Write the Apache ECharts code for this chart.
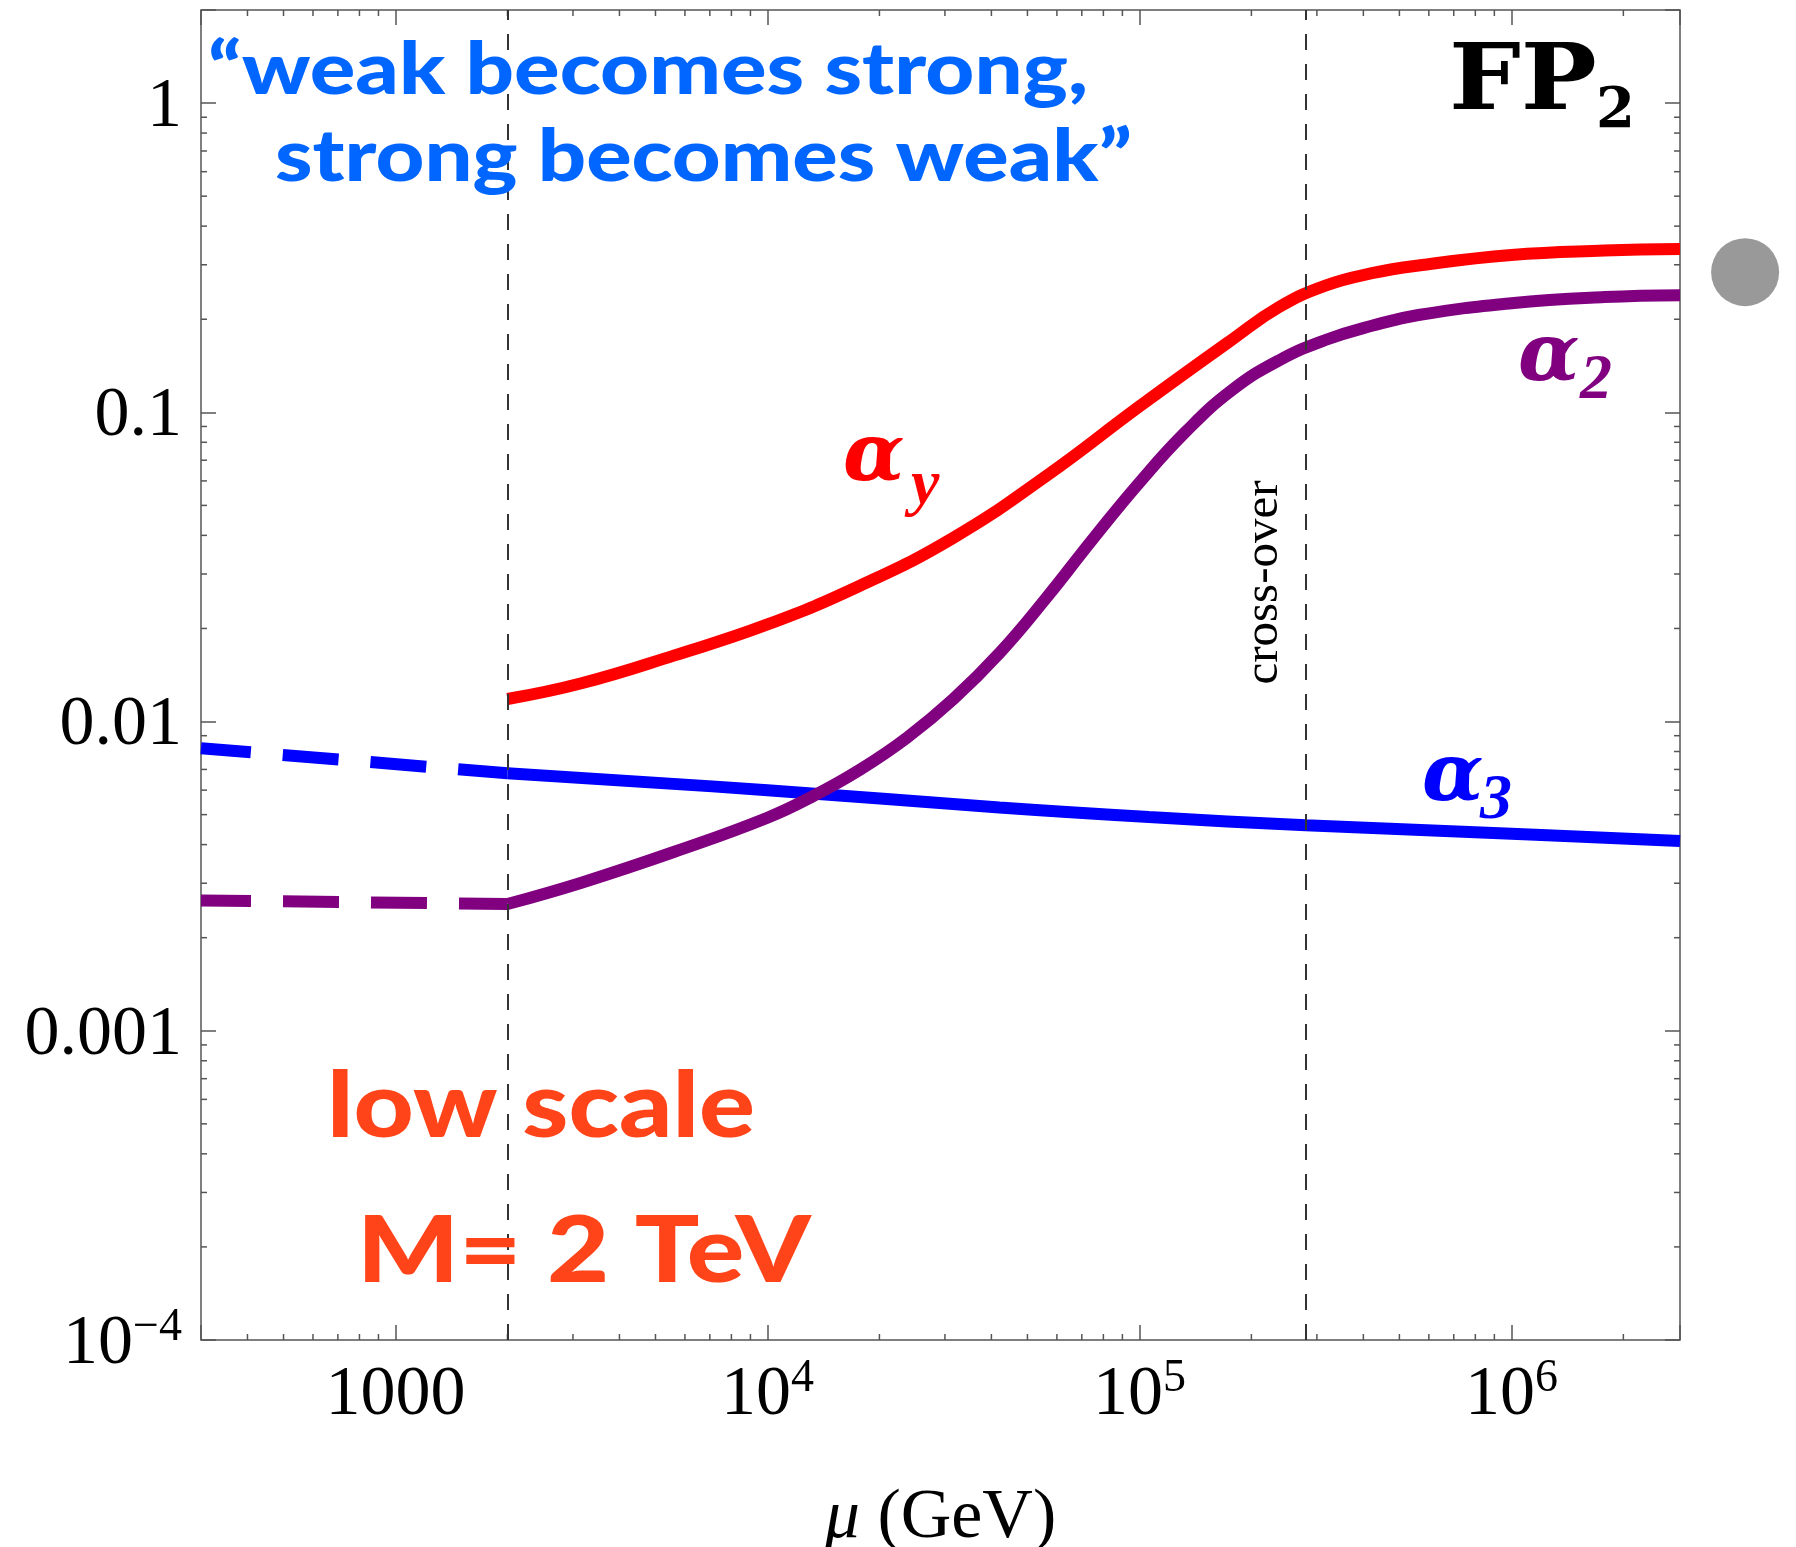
<!DOCTYPE html>
<html>
<head>
<meta charset="utf-8">
<script src="https://cdn.jsdelivr.net/npm/echarts@6/dist/echarts.min.js"></script>
<style>
  html, body { margin: 0; padding: 0; background: #fff; }
  #chart { width: 1796px; height: 1547px; }
</style>
</head>
<body>
<div id="chart"></div>
<script>
// Running gauge / Yukawa couplings against the scale mu (GeV), log-log frame.

// ---- axis extents and tick labels ----
const xRange = [300, 2.84e6];
const yRange = [1e-4, 2];
const xTickValues = [1e3, 1e4, 1e5, 1e6];
const xTickLabels = ['1000', '10^4', '10^5', '10^6'];
const yTickValues = [1e-4, 1e-3, 1e-2, 1e-1, 1];
const yTickLabels = ['10^\u22124', '0.001', '0.01', '0.1', '1'];
const xMinorTicks = [400, 500, 600, 700, 800, 900,
  2000, 3000, 4000, 5000, 6000, 7000, 8000, 9000,
  20000, 30000, 40000, 50000, 60000, 70000, 80000, 90000,
  200000, 300000, 400000, 500000, 600000, 700000, 800000, 900000,
  2000000];
const yMinorTicks = [2e-4, 3e-4, 4e-4, 5e-4, 6e-4, 7e-4, 8e-4, 9e-4,
  2e-3, 3e-3, 4e-3, 5e-3, 6e-3, 7e-3, 8e-3, 9e-3,
  0.02, 0.03, 0.04, 0.05, 0.06, 0.07, 0.08, 0.09,
  0.2, 0.3, 0.4, 0.5, 0.6, 0.7, 0.8, 0.9];

// ---- couplings: [mu (GeV), alpha] ----
const alphaY = [[2000, 0.01183], [3162, 0.0133], [5623, 0.01637], [10000, 0.0206],
  [17783, 0.02754], [31623, 0.0393], [56234, 0.0623], [100000, 0.1045],
  [177828, 0.1722], [237137, 0.2188], [316228, 0.257], [421697, 0.2818],
  [562341, 0.2985], [1000000, 0.3228], [1778279, 0.3334], [2840000, 0.3373]];
const alpha2Below = [[300, 0.00264], [2000, 0.00257]];
const alpha2 = [[2000, 0.00257], [3162, 0.003013], [5623, 0.003793], [10000, 0.004887],
  [13335, 0.005758], [17783, 0.007003], [23714, 0.008867], [31623, 0.011826],
  [42170, 0.016705], [56234, 0.025135], [74989, 0.03894], [100000, 0.059264],
  [133352, 0.08665], [177828, 0.11825], [237137, 0.14715], [316228, 0.17134],
  [421697, 0.19047], [562341, 0.2064], [1000000, 0.2254], [1778279, 0.236],
  [2840000, 0.2393]];
const alpha3Below = [[300, 0.0082], [2000, 0.0068]];
const alpha3 = [[2000, 0.0068], [10000, 0.0060], [42000, 0.00527], [106000, 0.00491],
  [280000, 0.00462], [1000000, 0.00434], [2840000, 0.00411]];

// matching scale M and the cross-over scale
const markedScales = [2000, 280000];
// fixed-point marker
const fixedPoint = [[4.25e6, 0.284]];

// ---- annotation texts ----
const quoteLines = ['\u201Cweak becomes strong,', 'strong becomes weak\u201D'];
const scaleNote = ['low scale', 'M= 2 TeV'];

const SERIF = '"Liberation Serif", "Times New Roman", serif';
const SANS = 'Lato, "Open Sans", sans-serif';
const HEAVY_SERIF = '"DejaVu Serif", "Liberation Serif", serif';
const RED = '#ff0000', PURPLE = '#800080', BLUE = '#0000ff';
const QUOTE_BLUE = '#0066ff', NOTE_ORANGE = '#ff4419';
const FRAME = '#555555';

const measureCtx = document.createElement('canvas').getContext('2d');
function fitScale(text, font, width) {
  measureCtx.font = font;
  return width / measureCtx.measureText(text).width;
}

function tickFormatter(values, labels) {
  return function (v) {
    const lv = Math.log10(v);
    for (let i = 0; i < values.length; i++) {
      if (Math.abs(Math.log10(values[i]) - lv) < 1e-6) {
        const p = labels[i].split('^');
        return p.length === 2 ? '{m|' + p[0] + '}{s|' + p[1] + '}' : '{m|' + p[0] + '}';
      }
    }
    return '';
  };
}
const labelRich = {
  m: { fontFamily: SERIF, fontSize: 70, lineHeight: 70, padding: [9, 0, 0, 0], color: '#000' },
  s: { fontFamily: SERIF, fontSize: 46, lineHeight: 46, verticalAlign: 'top', color: '#000' }
};

const majorTick = { show: true, inside: true, length: 15, lineStyle: { color: FRAME, width: 1.5 } };
const hidden = { show: false };

function minorTickSeries(values, horizontal) {
  return {
    type: 'custom', silent: true, clip: false, z: 4,
    xAxisIndex: 0, yAxisIndex: 0,
    data: values.map(v => horizontal ? [v, 1] : [1000, v]),
    renderItem(params, api) {
      const cs = params.coordSys;
      const p = api.coord([api.value(0), api.value(1)]);
      const st = { stroke: FRAME, lineWidth: 1.5 };
      const L = 6;
      if (horizontal) {
        return { type: 'group', children: [
          { type: 'line', shape: { x1: p[0], y1: cs.y + cs.height, x2: p[0], y2: cs.y + cs.height - L }, style: st },
          { type: 'line', shape: { x1: p[0], y1: cs.y, x2: p[0], y2: cs.y + L }, style: st }
        ] };
      }
      return { type: 'group', children: [
        { type: 'line', shape: { x1: cs.x, y1: p[1], x2: cs.x + L, y2: p[1] }, style: st },
        { type: 'line', shape: { x1: cs.x + cs.width, y1: p[1], x2: cs.x + cs.width - L, y2: p[1] }, style: st }
      ] };
    }
  };
}

function coupling(data, color, dashed, z) {
  return {
    type: 'line', data, symbol: 'none', showSymbol: false, silent: true, z,
    smooth: dashed ? false : 0.45,
    lineStyle: dashed
      ? { color, width: 12, type: [56, 32], dashOffset: 6, cap: 'butt' }
      : { color, width: 12, cap: 'butt' }
  };
}

const quoteFont = '900 73px ' + SANS;
const noteFont = '900 91px ' + SANS;
const alphaFont = 'italic bold 80px ' + HEAVY_SERIF;
const subFont = 'italic bold 64px ' + SERIF;

function label(text, font, fill, x, y, extra) {
  return Object.assign({
    type: 'text', x, y, silent: true, z: 20,
    style: { text, font, fill, align: 'left', verticalAlign: 'middle' }
  }, extra || {});
}

const option = {
  backgroundColor: '#ffffff',
  animation: false,
  textStyle: { fontFamily: SERIF },
  grid: {
    left: 201, top: 10, width: 1479, height: 1330,
    show: true, borderColor: FRAME, borderWidth: 1.5, backgroundColor: 'transparent',
    containLabel: false, outerBoundsMode: 'none'
  },
  xAxis: [
    {
      type: 'log', logBase: 10, min: xRange[0], max: xRange[1], position: 'bottom',
      axisLine: hidden, splitLine: hidden, axisTick: majorTick,
      axisLabel: { formatter: tickFormatter(xTickValues, xTickLabels), margin: 16, rich: labelRich },
      name: '{i|\u03bc} (GeV)', nameLocation: 'middle', nameGap: 144,
      nameTextStyle: {
        fontFamily: SERIF, fontSize: 70, color: '#000', lineHeight: 70,
        rich: { i: { fontFamily: SERIF, fontSize: 70, fontStyle: 'italic', color: '#000', lineHeight: 70 } }
      }
    },
    {
      type: 'log', logBase: 10, min: xRange[0], max: xRange[1], position: 'top',
      axisLine: hidden, splitLine: hidden, axisTick: majorTick, axisLabel: hidden
    }
  ],
  yAxis: [
    {
      type: 'log', logBase: 10, min: yRange[0], max: yRange[1], position: 'left',
      axisLine: hidden, splitLine: hidden, axisTick: majorTick,
      axisLabel: { formatter: tickFormatter(yTickValues, yTickLabels), margin: 19, rich: labelRich }
    },
    {
      type: 'log', logBase: 10, min: yRange[0], max: yRange[1], position: 'right',
      axisLine: hidden, splitLine: hidden, axisTick: majorTick, axisLabel: hidden
    }
  ],
  series: [
    minorTickSeries(xMinorTicks, true),
    minorTickSeries(yMinorTicks, false),
    coupling(alpha3Below, BLUE, true, 5),
    coupling(alpha3, BLUE, false, 5),
    coupling(alpha2Below, PURPLE, true, 6),
    coupling(alpha2, PURPLE, false, 6),
    Object.assign(coupling(alphaY, RED, false, 7), {
      markLine: {
        silent: true, symbol: 'none', z: 8, animation: false,
        label: { show: false },
        lineStyle: { color: '#333333', width: 2, type: [16, 14] },
        data: markedScales.map(v => ({ xAxis: v }))
      }
    }),
    {
      type: 'scatter', data: fixedPoint, symbol: 'circle', symbolSize: 68, clip: false, silent: true,
      itemStyle: { color: '#808080' }, z: 9
    }
  ],
  graphic: [
    label(quoteLines[0], quoteFont, QUOTE_BLUE, 208, 70.5, { scaleX: fitScale(quoteLines[0], quoteFont, 880) }),
    label(quoteLines[1], quoteFont, QUOTE_BLUE, 275, 157.5, { scaleX: fitScale(quoteLines[1], quoteFont, 857) }),
    label(scaleNote[0], noteFont, NOTE_ORANGE, 327, 1107.5, { scaleX: fitScale(scaleNote[0], noteFont, 428) }),
    label(scaleNote[1], noteFont, NOTE_ORANGE, 357, 1252.5, { scaleX: fitScale(scaleNote[1], noteFont, 454) }),
    // FP_2
    label('FP', 'bold 92px ' + HEAVY_SERIF, '#000', 1449, 85.2, { scaleX: 1.1 }),
    label('2', 'bold 56px ' + HEAVY_SERIF, '#000', 1596, 112.6),
    // coupling names
    label('\u03b1', alphaFont, RED, 843, 459.3),
    label('y', subFont, RED, 911, 486),
    label('\u03b1', alphaFont, PURPLE, 1518, 359.3),
    label('2', subFont, PURPLE, 1580, 381.4),
    label('\u03b1', alphaFont, BLUE, 1422, 779.3),
    label('3', subFont, BLUE, 1480, 801.4),
    // cross-over scale
    {
      type: 'text', x: 1264, y: 582.5, rotation: Math.PI / 2, silent: true, z: 20,
      style: { text: 'cross-over', font: '49px ' + SERIF, fill: '#000', align: 'center', verticalAlign: 'middle' }
    }
  ]
};

const chart = echarts.init(document.getElementById('chart'), null, { renderer: 'canvas', width: 1796, height: 1547 });
chart.setOption(option);
</script>
</body>
</html>
